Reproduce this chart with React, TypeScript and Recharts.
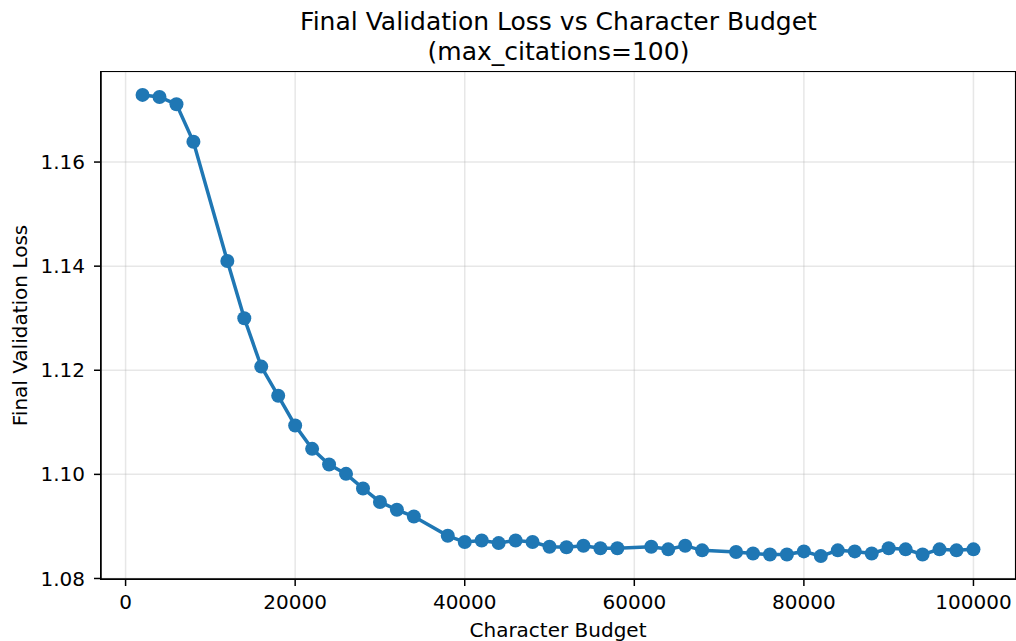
import { LineChart, Line, XAxis, YAxis, CartesianGrid } from "recharts";

const budgets = [
  2000, 4000, 6000, 8000, 12000, 14000, 16000, 18000, 20000, 22000, 24000, 26000,
  28000, 30000, 32000, 34000, 38000, 40000, 42000, 44000, 46000, 48000, 50000,
  52000, 54000, 56000, 58000, 62000, 64000, 66000, 68000, 72000, 74000, 76000,
  78000, 80000, 82000, 84000, 86000, 88000, 90000, 92000, 94000, 96000, 98000,
  100000,
];

const losses = [
  1.1729, 1.1725, 1.1711, 1.1639, 1.141, 1.13, 1.1207, 1.1151, 1.1094, 1.1049,
  1.1019, 1.1001, 1.0973, 1.0947, 1.0932, 1.0919, 1.0882, 1.087, 1.0873, 1.0868,
  1.0873, 1.087, 1.0861, 1.086, 1.0863, 1.0858, 1.0858, 1.0861, 1.0856, 1.0863,
  1.0854, 1.0851, 1.0848, 1.0846, 1.0846, 1.0852, 1.0843, 1.0854, 1.0852, 1.0848,
  1.0858, 1.0856, 1.0846, 1.0856, 1.0854, 1.0856,
];

const xTicks = [0, 20000, 40000, 60000, 80000, 100000];
const yTicks = [1.08, 1.1, 1.12, 1.14, 1.16];

const FONT = "'DejaVu Sans', sans-serif";
const BLUE = "#1f77b4";

const data = budgets.map((b, i) => ({ budget: b, loss: losses[i] }));

export default function App() {
  const tickStyle = { fill: "#000", fontSize: 20, fontFamily: FONT };
  return (
    <div
      style={{
        position: "absolute",
        left: 0,
        top: 0,
        width: 1016,
        height: 641,
        background: "#fff",
        overflow: "hidden",
      }}
    >
      <div
        style={{
          position: "absolute",
          left: 101,
          width: 915,
          top: 7,
          textAlign: "center",
          fontFamily: FONT,
          fontSize: 25,
          lineHeight: "30px",
          color: "#000",
        }}
      >
        Final Validation Loss vs Character Budget
        <br />
        (max_citations=100)
      </div>
      <LineChart
        width={1016}
        height={641}
        data={data}
        margin={{ top: 72, right: 1, bottom: 0, left: 0 }}
      >
        <CartesianGrid stroke="#b0b0b0" strokeOpacity={0.3} strokeWidth={1.5} />
        <XAxis
          dataKey="budget"
          type="number"
          domain={[-2900, 104900]}
          allowDataOverflow
          ticks={xTicks}
          interval={0}
          height={62}
          tick={tickStyle}
          tickSize={7}
          tickMargin={9}
          tickLine={{ stroke: "#000", strokeWidth: 1.5 }}
          axisLine={{ stroke: "#000", strokeWidth: 1.5 }}
          label={{
            value: "Character Budget",
            position: "center",
            dy: 20,
            style: { fill: "#000", fontSize: 20, fontFamily: FONT },
          }}
        />
        <YAxis
          type="number"
          domain={[1.0799, 1.1773]}
          allowDataOverflow
          ticks={yTicks}
          interval={0}
          width={101}
          tick={tickStyle}
          tickSize={7}
          tickMargin={9}
          tickFormatter={(v: number) => v.toFixed(2)}
          tickLine={{ stroke: "#000", strokeWidth: 1.5 }}
          axisLine={{ stroke: "#000", strokeWidth: 1.5 }}
          label={{
            value: "Final Validation Loss",
            angle: -90,
            position: "center",
            dx: -31,
            style: { fill: "#000", fontSize: 20, fontFamily: FONT, textAnchor: "middle" },
          }}
        />
        <Line
          dataKey="loss"
          stroke={BLUE}
          strokeWidth={3.5}
          dot={{ r: 7, fill: BLUE, stroke: BLUE, strokeWidth: 0 }}
          activeDot={false}
          isAnimationActive={false}
        />
      </LineChart>
      {/* frame (top/right spines) */}
      <div
        style={{
          position: "absolute",
          left: 100.25,
          top: 71.25,
          width: 915.5,
          height: 508.5,
          boxSizing: "border-box",
          border: "1.5px solid #000",
          pointerEvents: "none",
        }}
      />
    </div>
  );
}
